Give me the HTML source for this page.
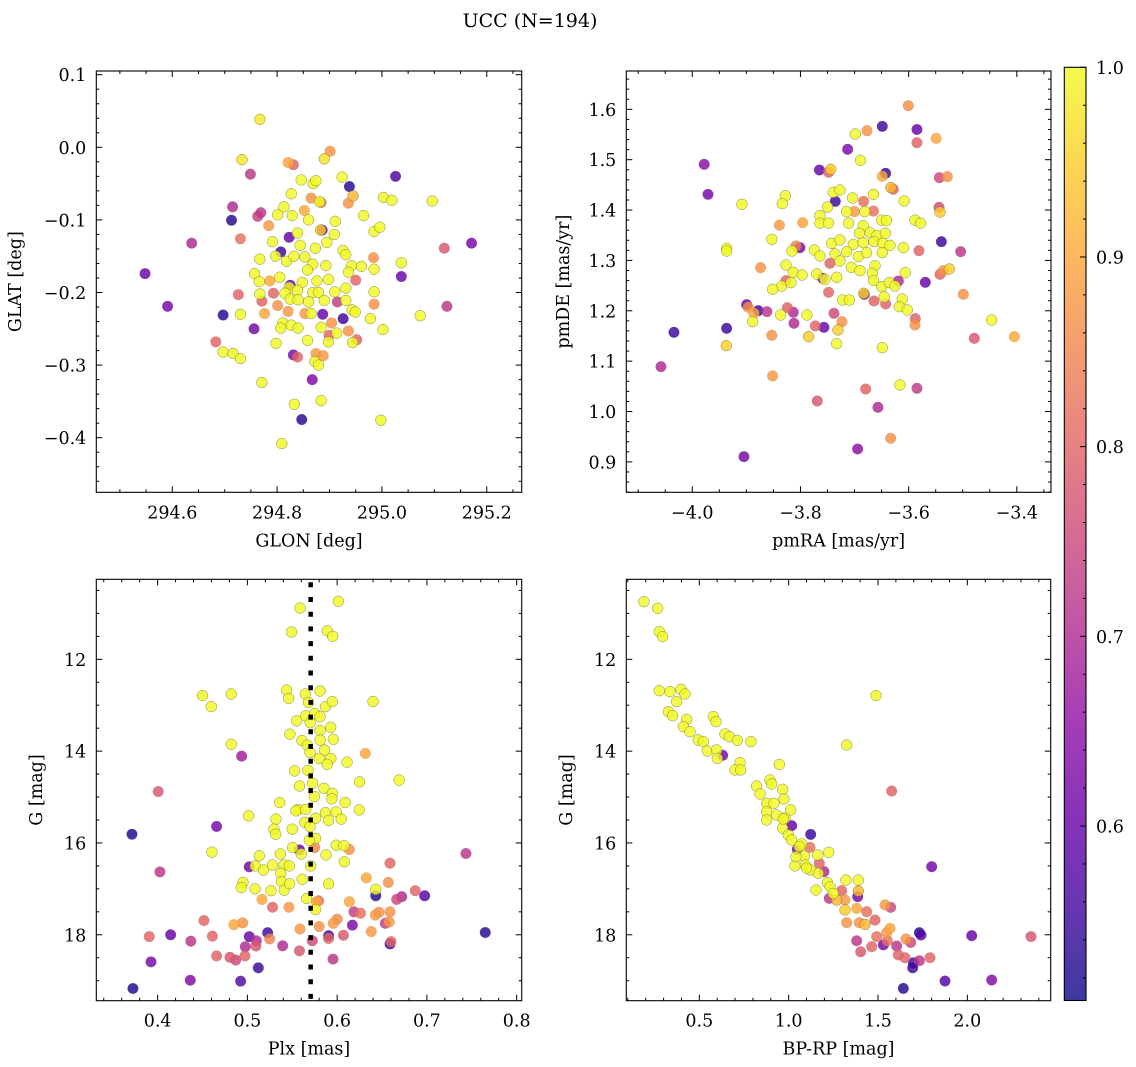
<!DOCTYPE html>
<html><head><meta charset="utf-8"><style>
html,body{margin:0;padding:0;background:#fff;}
svg{display:block;font-family:"DejaVu Serif","Liberation Serif",serif;}
</style></head><body>
<svg id="fig" width="1136" height="1067" viewBox="0 0 1136 1067" xmlns="http://www.w3.org/2000/svg">
<defs>
<linearGradient id="cbgrad" x1="0" y1="1" x2="0" y2="0">
<stop offset="0" stop-color="#0d0887"/><stop offset="0.1" stop-color="#41049d"/><stop offset="0.2" stop-color="#6a00a8"/><stop offset="0.3" stop-color="#8f0da4"/><stop offset="0.4" stop-color="#b12a90"/><stop offset="0.5" stop-color="#cc4778"/><stop offset="0.6" stop-color="#e16462"/><stop offset="0.7" stop-color="#f2844b"/><stop offset="0.8" stop-color="#fca636"/><stop offset="0.9" stop-color="#fcce25"/><stop offset="1" stop-color="#f0f921"/>
</linearGradient>
</defs>
<text x="530" y="27" font-size="19" text-anchor="middle">UCC (N=194)</text>
</svg>
<script>
// Panel 1: GLON vs GLAT
const glon=[294.767,294.901,294.890,294.733,294.821,294.831,294.749,295.026,294.846,294.869,294.874,294.924,294.938,294.827,294.945,294.936,294.865,294.884,294.881,295.003,295.019,295.096,294.715,294.713,294.769,294.763,294.813,294.801,294.829,294.852,294.860,294.965,294.911,294.784,294.730,294.637,294.823,294.839,294.886,294.883,294.909,294.985,294.996,295.119,295.171,294.791,294.807,294.844,294.873,294.895,294.926,294.931,294.984,295.037,294.548,294.767,294.797,294.818,294.832,294.853,294.868,294.893,294.942,294.961,294.985,295.037,294.936,294.950,294.757,294.766,294.786,294.805,294.825,294.823,294.848,294.876,294.898,294.858,294.591,294.726,294.767,294.793,294.815,294.839,294.868,294.879,294.910,294.931,294.985,295.124,294.771,294.801,294.825,294.840,294.860,294.890,294.915,294.931,294.985,294.697,294.730,294.776,294.821,294.853,294.865,294.887,294.926,294.943,294.949,294.978,295.073,294.756,294.811,294.807,294.827,294.840,294.884,294.904,294.899,294.914,294.936,294.952,294.944,294.898,295.002,294.683,294.697,294.716,294.730,294.798,294.858,294.831,294.839,294.874,294.888,294.872,294.879,294.867,294.771,294.833,294.884,294.847,294.998,294.809];
const glat=[0.0386,-0.0055,-0.016,-0.017,-0.021,-0.024,-0.037,-0.040,-0.045,-0.050,-0.046,-0.041,-0.054,-0.064,-0.067,-0.077,-0.070,-0.076,-0.075,-0.069,-0.073,-0.074,-0.082,-0.1005,-0.090,-0.095,-0.082,-0.093,-0.094,-0.087,-0.100,-0.094,-0.102,-0.108,-0.126,-0.132,-0.124,-0.118,-0.114,-0.114,-0.120,-0.116,-0.110,-0.139,-0.132,-0.130,-0.144,-0.135,-0.139,-0.131,-0.142,-0.148,-0.152,-0.159,-0.174,-0.154,-0.150,-0.157,-0.150,-0.151,-0.161,-0.163,-0.163,-0.164,-0.168,-0.178,-0.172,-0.183,-0.174,-0.185,-0.184,-0.179,-0.190,-0.193,-0.186,-0.184,-0.182,-0.169,-0.219,-0.203,-0.202,-0.201,-0.201,-0.197,-0.200,-0.200,-0.199,-0.194,-0.199,-0.219,-0.212,-0.218,-0.209,-0.210,-0.213,-0.211,-0.213,-0.211,-0.216,-0.231,-0.230,-0.229,-0.226,-0.229,-0.229,-0.230,-0.236,-0.224,-0.227,-0.236,-0.232,-0.250,-0.242,-0.249,-0.245,-0.249,-0.248,-0.242,-0.259,-0.256,-0.253,-0.265,-0.269,-0.268,-0.251,-0.268,-0.282,-0.284,-0.291,-0.270,-0.266,-0.286,-0.289,-0.284,-0.287,-0.295,-0.300,-0.320,-0.324,-0.354,-0.349,-0.375,-0.376,-0.408];
const probGal=[0.98,0.87,0.97,0.98,0.9,0.8,0.72,0.57,1,1,1,1,0.53,1,0.92,0.87,0.87,0.82,1,1,1,1,0.7,0.53,0.72,0.73,1,1,1,0.9,1,1,1,0.88,0.82,0.7,0.6,1,0.6,0.95,1,1,1,0.78,0.62,1,0.55,1,1,1,1,1,0.87,1,0.6,1,1,1,1,1,1,1,1,1,1,0.6,1,0.8,1,1,0.9,1,0.6,1,1,1,1,1,0.62,0.8,1,0.8,1,1,1,1,1,1,1,0.72,0.8,0.87,1,1,1,1,0.73,1,0.87,0.53,1,0.9,0.88,0.88,1,0.6,0.55,1,1,1,1,0.62,1,1,1,1,1,0.87,0.8,1,0.87,0.8,1,1,1,0.8,1,1,1,1,1,0.62,0.8,0.88,0.88,1,1,0.63,1,1,1,0.53,1,1];
// Panel 2: pmRA vs pmDE
const pmra=[-3.6006,-3.6487,-3.677,-3.6986,-3.5846,-3.5846,-3.549,-3.7128,-3.689,-3.978,-3.971,-3.765,-3.748,-3.744,-3.6425,-3.6487,-3.5433,-3.5285,-3.6284,-3.6327,-3.9082,-3.828,-3.8336,-3.7393,-3.727,-3.7356,-3.7035,-3.6832,-3.665,-3.6083,-3.5439,-3.542,-3.750,-3.764,-3.7147,-3.7005,-3.681,-3.665,-3.5883,-3.578,-3.839,-3.796,-3.764,-3.748,-3.711,-3.684,-3.650,-3.641,-3.853,-3.691,-3.671,-3.659,-3.643,-3.5395,-3.9365,-3.9365,-3.8083,-3.801,-3.8157,-3.7744,-3.7424,-3.727,-3.7023,-3.684,-3.6641,-3.648,-3.6345,-3.6099,-3.581,-3.5039,-3.764,-3.7362,-3.7147,-3.693,-3.6777,-3.6487,-3.7455,-3.727,-3.706,-3.690,-3.6622,-3.8268,-3.8737,-3.8132,-3.797,-3.770,-3.759,-3.7547,-3.733,-3.6672,-3.665,-3.6062,-3.542,-3.5359,-3.5248,-3.5692,-3.8268,-3.8348,-3.8176,-3.8515,-3.748,-3.6499,-3.6357,-3.6253,-3.619,-3.4989,-3.722,-3.7097,-3.682,-3.683,-3.6641,-3.6425,-3.645,-3.6117,-3.6172,-3.6025,-3.8995,-3.8965,-3.878,-3.886,-3.8885,-3.862,-3.8367,-3.8243,-3.8132,-3.812,-3.788,-3.738,-3.7233,-3.7726,-3.7566,-3.7307,-3.785,-3.853,-3.7331,-3.9365,-3.9371,-4.0339,-3.5877,-3.5883,-3.6487,-3.4465,-3.4786,-3.4046,-4.0579,-3.8515,-3.6795,-3.616,-3.5846,-3.7689,-3.6567,-3.6333,-3.6943,-3.9045];
const pmde=[1.6073,1.5662,1.5576,1.551,1.560,1.5338,1.5424,1.5206,1.4987,1.4908,1.4312,1.4796,1.475,1.4809,1.473,1.467,1.4643,1.4663,1.4412,1.4445,1.4114,1.4286,1.4127,1.4352,1.4398,1.4173,1.424,1.4173,1.4312,1.418,1.4054,1.396,1.406,1.389,1.397,1.397,1.397,1.398,1.380,1.374,1.370,1.375,1.374,1.374,1.374,1.369,1.380,1.379,1.342,1.354,1.355,1.349,1.354,1.3373,1.324,1.3187,1.3287,1.3253,1.3187,1.3207,1.334,1.3406,1.332,1.3353,1.3373,1.334,1.330,1.3253,1.3194,1.3174,1.3088,1.3128,1.3174,1.3075,1.3154,1.3154,1.2942,1.2989,1.2863,1.2797,1.2896,1.2909,1.2856,1.2764,1.271,1.273,1.2645,1.2625,1.2665,1.2744,1.260,1.2757,1.2724,1.2797,1.283,1.2565,1.2598,1.2492,1.2559,1.2426,1.2367,1.2479,1.2559,1.2492,1.2592,1.2327,1.2214,1.2214,1.2327,1.2347,1.2195,1.2135,1.2274,1.2234,1.2082,1.2016,1.2122,1.2069,1.2003,1.195,1.1784,1.1983,1.1917,1.2062,1.197,1.1751,1.1917,1.195,1.1784,1.170,1.1672,1.1619,1.1487,1.1513,1.1347,1.1652,1.1308,1.1573,1.1844,1.1718,1.1268,1.1817,1.1453,1.1487,1.0891,1.0706,1.0447,1.0527,1.0461,1.0209,1.0083,0.9468,0.9256,0.9104];
const probPm=[0.87,0.55,0.87,1,0.6,0.8,0.9,0.63,1,0.65,0.62,0.6,0.8,0.95,0.55,0.9,0.75,0.87,0.8,0.92,1,1,1,1,1,0.55,1,0.82,1,1,0.76,0.95,1,1,1,0.88,1,0.82,1,1,0.88,0.9,1,1,1,1,1,1,1,1,1,1,1,0.55,1,1,0.85,0.62,1,1,1,1,1,1,1,1,1,1,0.8,0.72,1,1,1,1,1,1,0.8,1,1,1,1,1,0.87,1,1,1,0.65,1,1,1,1,1,0.8,0.87,0.95,0.6,0.8,1,1,1,0.8,1,1,1,0.7,0.87,1,1,0.6,0.95,0.8,0.8,1,1,1,1,0.6,0.87,0.55,0.9,1,0.72,1,0.8,0.7,0.7,1,0.75,0.87,0.8,0.6,0.95,0.95,0.87,1,0.55,0.95,0.55,0.8,0.87,1,1,0.78,0.9,0.7,0.88,0.8,1,0.73,0.78,0.7,0.87,0.65,0.62];
// Panel 3: Plx vs G
const plx=[0.5586,0.6013,0.5493,0.589,0.595,0.450,0.482,0.4598,0.5437,0.546,0.5645,0.581,0.568,0.587,0.5946,0.640,0.565,0.575,0.581,0.5549,0.570,0.5474,0.581,0.5928,0.5608,0.5668,0.581,0.5957,0.586,0.5697,0.580,0.593,0.589,0.482,0.4936,0.6314,0.611,0.5526,0.5675,0.625,0.669,0.4007,0.558,0.5727,0.5853,0.5946,0.5746,0.594,0.536,0.609,0.5567,0.554,0.565,0.587,0.599,0.6247,0.5014,0.5318,0.564,0.576,0.5905,0.6046,0.4657,0.3714,0.5296,0.5315,0.550,0.5697,0.576,0.569,0.4605,0.5504,0.558,0.560,0.575,0.599,0.6076,0.6136,0.5876,0.608,0.7435,0.5367,0.5133,0.5021,0.5088,0.518,0.528,0.541,0.5467,0.537,0.5705,0.6589,0.4026,0.4951,0.4932,0.5085,0.5263,0.538,0.541,0.547,0.561,0.5905,0.6325,0.657,0.643,0.643,0.687,0.6975,0.672,0.6663,0.5163,0.528,0.5463,0.566,0.577,0.5794,0.576,0.6136,0.6187,0.626,0.6466,0.6589,0.4516,0.485,0.4947,0.5586,0.580,0.5957,0.600,0.617,0.638,0.6537,0.658,0.765,0.3907,0.4145,0.437,0.461,0.5021,0.51,0.4977,0.5096,0.5226,0.5248,0.5393,0.558,0.5723,0.5905,0.5905,0.607,0.6589,0.660,0.4657,0.4806,0.487,0.4973,0.3926,0.5122,0.5954,0.4364,0.4925,0.3725,0.6425];
const gPlx=[10.882,10.736,11.405,11.38,11.50,12.79,12.755,13.03,12.67,12.85,12.755,12.69,12.94,13.03,12.92,12.92,13.23,13.18,13.25,13.34,13.38,13.63,13.55,13.48,13.77,13.87,13.76,13.74,13.975,14.03,14.16,14.16,14.29,13.85,14.11,14.05,14.24,14.43,14.42,14.67,14.63,14.88,14.76,14.70,14.81,14.92,14.99,15.04,15.12,15.12,15.27,15.30,15.27,15.34,15.32,15.28,15.41,15.48,15.55,15.46,15.51,15.48,15.64,15.81,15.70,15.81,15.70,15.645,15.90,15.94,16.20,16.10,16.15,16.24,16.10,16.05,16.06,16.14,16.26,16.41,16.23,16.24,16.28,16.52,16.50,16.59,16.48,16.48,16.50,16.66,16.50,16.44,16.63,16.86,16.97,17.00,17.04,16.84,17.03,16.89,16.79,16.89,16.76,16.86,17.01,17.15,17.04,17.15,17.17,17.23,17.23,17.40,17.40,17.21,17.28,17.26,17.45,17.28,17.50,17.53,17.51,17.50,17.69,17.78,17.74,17.875,17.82,17.75,17.66,17.79,17.93,17.75,17.72,17.95,18.04,18.00,18.14,18.03,18.04,18.13,18.26,18.245,17.955,18.09,18.24,18.35,18.13,18.02,18.08,18.01,18.20,18.15,18.46,18.49,18.55,18.46,18.59,18.72,18.53,18.99,19.01,19.17,17.57];
const probPlx=[1,1,1,1,1,1,1,1,1,1,1,1,1,1,1,1,1,1,1,1,1,1,1,1,1,1,1,1,1,1,1,1,1,1,0.68,0.9,1,1,1,1,1,0.78,1,1,1,1,1,1,1,1,1,1,1,1,1,1,1,1,1,1,1,1,0.62,0.52,1,1,1,1,1,1,1,1,0.6,1,0.85,1,1,0.87,1,1,0.72,1,1,0.62,1,1,1,1,1,1,1,0.8,0.72,1,1,1,1,1,1,1,1,1,0.9,0.87,1,0.53,0.8,0.58,0.7,0.75,0.9,0.8,0.88,1,0.9,0.82,1,0.9,0.73,0.82,0.87,0.87,0.8,0.9,0.87,0.88,0.87,0.88,0.86,0.63,0.88,0.73,0.88,0.53,0.8,0.6,0.72,0.8,0.6,0.7,0.7,0.78,0.55,0.85,0.7,0.78,0.75,0.55,0.8,0.78,0.55,0.8,0.8,0.78,0.75,0.8,0.62,0.55,0.72,0.64,0.58,0.52,0.88];
const plxLine=0.5705;
// Panel 4: BP-RP vs G
const bprp=[0.190,0.2668,0.276,0.2948,0.276,0.3358,0.3974,0.420,0.3731,0.3265,0.3507,0.4291,0.411,0.4478,0.4944,0.5224,0.5448,0.597,0.6306,0.6007,0.5784,0.5933,0.6437,0.668,0.7127,0.7892,0.7276,0.70,0.7313,0.9478,0.8209,0.8396,0.8955,0.905,0.9664,0.9739,0.8769,0.9179,1.0112,0.8769,0.8769,0.9328,0.9795,1.0168,0.9664,0.9981,1.1231,1.0168,1.0728,1.1194,1.0485,1.0597,1.0877,1.1623,1.2239,1.0354,1.0933,1.1231,1.1716,1.1978,1.166,1.8004,1.5765,1.4888,1.3246,1.3209,1.390,1.390,1.3862,1.2164,1.2313,1.153,1.2276,1.2687,1.2966,1.3153,1.3153,1.3806,1.4366,1.4832,1.5392,1.5709,1.3246,1.3955,1.4272,1.5672,1.5485,1.4925,1.3806,1.4030,1.4646,1.530,1.5522,1.6045,1.6567,1.6828,1.7313,1.7406,1.6138,1.651,1.6978,1.7313,1.791,1.694,1.6418,1.875,2.1362,2.0243,2.3563,0.970,1.041,1.100,1.25];
const gCmd=[10.744,10.889,11.397,11.506,12.683,12.704,12.654,12.755,12.922,13.14,13.227,13.307,13.467,13.576,13.757,13.794,13.997,13.975,14.09,14.157,13.249,13.358,13.627,13.685,13.765,13.794,14.25,14.41,14.41,14.29,14.76,14.934,14.63,14.716,14.832,15.043,15.137,15.137,15.28,15.319,15.50,15.39,15.46,15.624,15.68,15.827,15.813,15.936,16.023,16.096,16.14,16.08,16.285,16.263,16.205,16.50,16.48,16.59,16.445,16.626,16.662,16.517,14.869,12.79,13.866,16.808,16.808,17.047,17.17,16.866,16.953,17.025,17.207,17.243,17.04,17.243,17.46,17.425,17.497,17.68,17.35,17.403,17.737,17.737,17.773,17.86,17.955,18.04,18.13,18.37,18.26,18.22,18.13,18.245,18.09,18.166,17.955,18.006,18.44,18.50,18.61,18.565,18.50,18.72,19.168,19.008,18.986,18.02,18.04,15.48,16.30,16.55,17.10];
const probCmd=[1,1,1,1,1,1,1,1,1,1,1,1,1,1,1,1,1,1,0.62,1,1,1,1,1,1,1,1,1,1,1,1,1,1,1,1,1,1,1,1,1,1,1,1,0.6,1,1,0.55,1,1,0.82,0.62,1,1,1,1,1,1,1,0.8,0.7,1,0.62,0.8,1,1,1,1,0.92,0.62,1,1,1,0.72,0.92,0.8,0.88,0.95,0.9,0.82,0.8,0.88,0.75,0.87,0.87,0.92,0.9,0.88,0.82,0.72,0.78,0.8,0.62,0.82,0.72,0.87,0.75,0.53,0.58,0.8,0.8,0.55,0.72,0.8,0.55,0.53,0.58,0.64,0.6,0.78,1,1,1,1];
// Colorbar
const cbTicks=[0.6,0.7,0.8,0.9,1.0];
const cbMin=0.508, cbMax=1.0;

const NS="http://www.w3.org/2000/svg";
const svg=document.getElementById('fig');
function el(tag,attrs,parent){const e=document.createElementNS(NS,tag);for(const k in attrs)e.setAttribute(k,attrs[k]);(parent||svg).appendChild(e);return e;}
const stops=[[0,13,8,135],[0.1,65,4,157],[0.2,106,0,168],[0.3,143,13,164],[0.4,177,42,144],[0.5,204,71,120],[0.6,225,100,98],[0.7,242,132,75],[0.8,252,166,54],[0.9,252,206,37],[1,240,249,33]];
function plasma(v){let t=(v-cbMin)/(cbMax-cbMin);t=Math.max(0,Math.min(1,t));
 for(let i=1;i<stops.length;i++){if(t<=stops[i][0]){const a=stops[i-1],b=stops[i],f=(t-a[0])/(b[0]-a[0]);
 return 'rgb('+[1,2,3].map(j=>Math.round(a[j]+f*(b[j]-a[j]))).join(',')+')';}}return 'rgb(240,249,33)';}
function fmt(v,d){const s=Math.abs(v).toFixed(d);return (v<-1e-9?'\u2212':'')+s;}

function panel(cfg){
 const g=el('g',{});
 
 
 const L=cfg.px[0],R=cfg.px[1],T=cfg.py[0],B=cfg.py[1];
 const sx=v=>L+(v-cfg.xd[0])/(cfg.xd[1]-cfg.xd[0])*(R-L);
 const sy=v=>T+(v-cfg.yd[0])/(cfg.yd[1]-cfg.yd[0])*(B-T);
 const pts=el('g',{},g);
 
 
 const idx=cfg.x.map((_,i)=>i).sort((a,b)=>cfg.p[a]-cfg.p[b]);
 idx.forEach(i=>{
  const c=el('circle',{cx:sx(cfg.x[i]),cy:sy(cfg.y[i]),r:5.4,fill:plasma(cfg.p[i]),'fill-opacity':0.82,stroke:cfg.p[i]>0.9?'#6b6b40':'#777','stroke-width':0.5,'stroke-opacity':cfg.p[i]>0.9?0.8:0.25},pts);
  
  
 });
 if(cfg.vline!==undefined){
  const ln=el('line',{x1:sx(cfg.vline),x2:sx(cfg.vline),y1:T+3,y2:B,stroke:'#000','stroke-width':4.5,'stroke-dasharray':'5 9.7'},g);
  
  
 }
 const fr=el('rect',{x:L,y:T,width:R-L,height:B-T,fill:'none',stroke:'#000','stroke-width':1.1},g);
 
 
 const tk=el('g',{stroke:'#000','stroke-width':1},g);
 const xlo=Math.min(...cfg.xd),xhi=Math.max(...cfg.xd),ylo=Math.min(...cfg.yd),yhi=Math.max(...cfg.yd);
 for(let k=Math.ceil(xlo/cfg.xmin-1e-6);k*cfg.xmin<=xhi+1e-9;k++){const v=k*cfg.xmin,x=sx(v);
  const maj=Math.abs(v/cfg.xmaj-Math.round(v/cfg.xmaj))<1e-6,len=maj?6:3;
  el('line',{x1:x,x2:x,y1:B,y2:B-len},tk);el('line',{x1:x,x2:x,y1:T,y2:T+len},tk);}
 for(let k=Math.ceil(ylo/cfg.ymin-1e-6);k*cfg.ymin<=yhi+1e-9;k++){const v=k*cfg.ymin,y=sy(v);
  const maj=Math.abs(v/cfg.ymaj-Math.round(v/cfg.ymaj))<1e-6,len=maj?6:3;
  el('line',{x1:L,x2:L+len,y1:y,y2:y},tk);el('line',{x1:R,x2:R-len,y1:y,y2:y},tk);}
 cfg.xt.forEach(v=>{const t=el('text',{x:sx(v),y:B+26,'font-size':17.5,'text-anchor':'middle'},g);t.textContent=fmt(v,cfg.xdec);
  
  });
 cfg.yt.forEach(v=>{const t=el('text',{x:L-10,y:sy(v)+6.5,'font-size':17.5,'text-anchor':'end'},g);t.textContent=fmt(v,cfg.ydec);
  
  });
 const xl=el('text',{x:(L+R)/2,y:B+54,'font-size':17.5,'text-anchor':'middle'},g);xl.textContent=cfg.xlabel;
 
 
 const yl=el('text',{x:0,y:0,'font-size':17.5,'text-anchor':'middle',transform:'translate('+cfg.ylx+','+((T+B)/2)+') rotate(-90)'},g);yl.textContent=cfg.ylabel;
 
 
}

panel({name:'glon-glat-panel',x:glon,y:glat,p:probGal,px:[96.3,521.7],py:[71,492.3],xd:[294.455,295.2667],yd:[0.1051,-0.4752],
 xmaj:0.2,xmin:0.05,ymaj:0.1,ymin:0.02,xt:[294.6,294.8,295.0,295.2],yt:[0.1,0.0,-0.1,-0.2,-0.3,-0.4],xdec:1,ydec:1,xlabel:'GLON [deg]',ylabel:'GLAT [deg]',ylx:21});
panel({name:'proper-motion-panel',x:pmra,y:pmde,p:probPm,px:[626.3,1051],py:[71,492.3],xd:[-4.122,-3.3368],yd:[1.6761,0.8396],
 xmaj:0.2,xmin:0.05,ymaj:0.1,ymin:0.02,xt:[-4.0,-3.8,-3.6,-3.4],yt:[0.9,1.0,1.1,1.2,1.3,1.4,1.5,1.6],xdec:1,ydec:1,xlabel:'pmRA [mas/yr]',ylabel:'pmDE [mas/yr]',ylx:569});
panel({name:'parallax-panel',x:plx,y:gPlx,p:probPlx,px:[96.3,521.7],py:[579.3,1000.7],xd:[0.3317,0.8056],yd:[10.257,19.436],
 xmaj:0.1,xmin:0.02,ymaj:2,ymin:0.5,xt:[0.4,0.5,0.6,0.7,0.8],yt:[12,14,16,18],xdec:1,ydec:0,xlabel:'Plx [mas]',ylabel:'G [mag]',ylx:42,vline:plxLine});
panel({name:'cmd-panel',x:bprp,y:gCmd,p:probCmd,px:[626.3,1050.7],py:[579.3,1000.7],xd:[0.0914,2.4664],yd:[10.257,19.436],
 xmaj:0.5,xmin:0.1,ymaj:2,ymin:0.5,xt:[0.5,1.0,1.5,2.0],yt:[12,14,16,18],xdec:1,ydec:0,xlabel:'BP-RP [mag]',ylabel:'G [mag]',ylx:572});

// colorbar
(function(){
 const L=1064.3,R=1086,T=67.3,B=1000.5;
 const sy=v=>B-(v-cbMin)/(cbMax-cbMin)*(B-T);
 const g=el('g',{});
 
 
 el('rect',{x:L,y:T,width:R-L,height:B-T,fill:'url(#cbgrad)','fill-opacity':0.8},g);
 el('rect',{x:L,y:T,width:R-L,height:B-T,fill:'none',stroke:'#000','stroke-width':1.1},g);
 for(let k=26;k<=50;k++){const v=k*0.02;if(v<cbMin)continue;const y=sy(v);const maj=k%5===0;
  el('line',{x1:R,x2:R-(maj?6:3),y1:y,y2:y,stroke:'#000','stroke-width':1},g);}
 cbTicks.forEach(v=>{const t=el('text',{x:R+10,y:sy(v)+6.5,'font-size':17.5},g);t.textContent=v.toFixed(1);
  
  });
})();
</script>
</body></html>
